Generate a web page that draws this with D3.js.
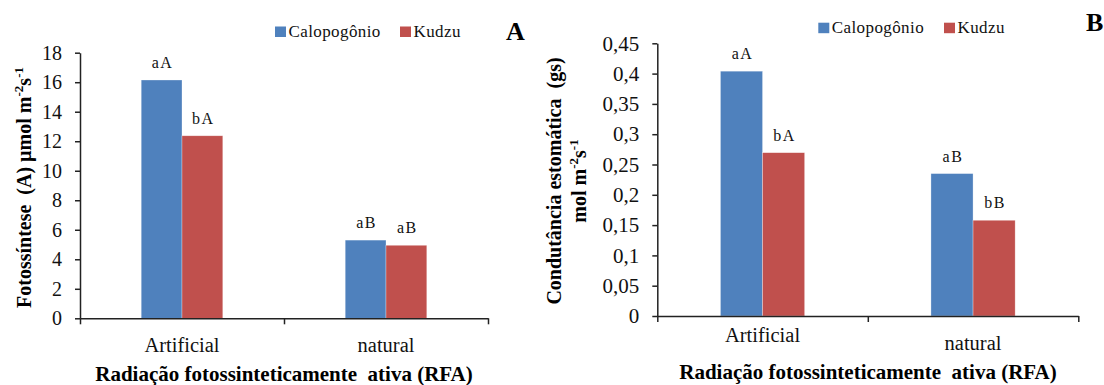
<!DOCTYPE html>
<html>
<head>
<meta charset="utf-8">
<script src="https://cdn.jsdelivr.net/npm/d3@7.9.0/dist/d3.min.js"></script>
<style>
  html, body { margin: 0; padding: 0; background: #fff; }
  text { white-space: pre; }
</style>
</head>
<body>
<svg id="chart" width="1104" height="385"></svg>
<script>
// data
const categories = ["Artificial", "natural"];
const series = ["Calopogônio", "Kudzu"];

const photoCalopogonio = [16.15, 5.3];
const photoKudzu = [12.37, 4.95];
const photoLettersCalopogonio = ["aA", "aB"];
const photoLettersKudzu = ["bA", "aB"];
const photoTicks = [0, 2, 4, 6, 8, 10, 12, 14, 16, 18];

const gsCalopogonio = [0.404, 0.235];
const gsKudzu = [0.2695, 0.158];
const gsLettersCalopogonio = ["aA", "aB"];
const gsLettersKudzu = ["bA", "bB"];
const gsTicks = [0, 0.05, 0.1, 0.15, 0.2, 0.25, 0.3, 0.35, 0.4, 0.45];

const colors = d3.scaleOrdinal().domain(series).range(["#4F81BD", "#C0504D"]);
const svg = d3.select("#chart");

// comma decimals like the original
const commaFormat = d => String(d).replace(".", ",");

function drawPanel(opt) {
  const g = svg.append("g");

  let x = d3.scaleBand().domain(categories).range([opt.x0, opt.x1]);
  let xSub = d3.scaleBand().domain(series).range([0, x.bandwidth()]).paddingOuter(1.5);
  let y = d3.scaleLinear().domain([0, opt.ticks[opt.ticks.length - 1]]).range([opt.y0, opt.y1]);

  // rows: one per category/series pair
  let rows = [];
  categories.forEach((c, i) => {
    series.forEach((s, j) => {
      rows.push({ cat: c, ser: s, value: opt.values[j][i], letter: opt.letters[j][i] });
    });
  });

  g.selectAll("rect.bar")
    .data(rows)
    .enter()
    .append("rect")
    .attr("class", "bar")
    .attr("x", d => x(d.cat) + xSub(d.ser))
    .attr("width", xSub.bandwidth())
    .attr("y", d => y(d.value))
    .attr("height", d => y(0) - y(d.value))
    .attr("fill", d => colors(d.ser))
    .attr("stroke", "rgba(255,255,255,0.5)")
    .attr("stroke-width", 0.6);

  g.selectAll("text.letter")
    .data(rows)
    .enter()
    .append("text")
    .attr("class", "letter")
    .attr("x", d => x(d.cat) + xSub(d.ser) + xSub.bandwidth() / 2 + 1)
    .attr("y", d => y(d.value) - 12)
    .attr("text-anchor", "middle")
    .attr("font-size", 16)
    .attr("letter-spacing", 1.5)
    .attr("fill", "#111")
    .text(d => d.letter);

  // y axis
  let yAxis = g.append("g")
    .attr("transform", `translate(${opt.x0},0)`)
    .call(d3.axisLeft(y).tickValues(opt.ticks).tickSize(5).tickSizeOuter(0).tickPadding(13).tickFormat(commaFormat));
  yAxis.selectAll("text").attr("font-size", opt.tickFont).attr("fill", "#111");

  // x axis with ticks on the band edges
  let edge = d3.scaleLinear().domain([0, categories.length]).range([opt.x0, opt.x1]);
  g.append("g")
    .attr("transform", `translate(0,${opt.y0})`)
    .call(d3.axisBottom(edge).tickValues(d3.range(categories.length + 1)).tickSize(6).tickSizeOuter(0).tickFormat(""));

  g.selectAll("path.domain, .tick line").attr("stroke", "#222").attr("stroke-width", 1.5);

  g.selectAll("text.cat")
    .data(categories)
    .enter()
    .append("text")
    .attr("class", "cat")
    .attr("x", d => x(d) + x.bandwidth() / 2)
    .attr("y", (d, i) => opt.catY[i])
    .attr("text-anchor", "middle")
    .attr("font-size", 20.5)
    .attr("fill", "#111")
    .text(d => d);

  // x title
  g.append("text")
    .attr("x", opt.xTitleX)
    .attr("y", opt.xTitleY)
    .attr("text-anchor", "middle")
    .attr("font-size", 21)
    .attr("font-weight", "bold")
    .text("Radiação fotossinteticamente  ativa (RFA)");

  // y title (one or more rotated lines, superscripts via tspans)
  opt.yTitle.forEach((parts, k) => {
    let t = g.append("text")
      .attr("transform", `translate(${opt.yTitleX[k]},${opt.yTitleY}) rotate(-90)`)
      .attr("text-anchor", "middle")
      .attr("font-size", 20)
      .attr("font-weight", "bold");
    parts.forEach(p => {
      let ts = t.append("tspan").text(p.t);
      if (p.sup) ts.attr("font-size", 13).attr("dy", -8);
      if (p.down) ts.attr("dy", 8);
    });
  });

  // legend
  let leg = g.selectAll("g.leg")
    .data(series)
    .enter()
    .append("g")
    .attr("class", "leg")
    .attr("transform", (d, i) => `translate(${opt.legendX[i]},${opt.legendY})`);
  leg.append("rect")
    .attr("width", 11)
    .attr("height", 10.5)
    .attr("fill", d => colors(d));
  leg.append("text")
    .attr("x", 13.5)
    .attr("y", 10.5)
    .attr("font-size", 17)
    .attr("letter-spacing", 0.4)
    .attr("fill", "#111")
    .text(d => d);

  // panel letter
  g.append("text")
    .attr("x", opt.tagX)
    .attr("y", opt.tagY)
    .attr("font-size", 26)
    .attr("font-weight", "bold")
    .text(opt.tag);
}

drawPanel({
  x0: 80, x1: 488, y0: 318.3, y1: 52.7,
  ticks: photoTicks, tickFont: 20,
  values: [photoCalopogonio, photoKudzu],
  letters: [photoLettersCalopogonio, photoLettersKudzu],
  catY: [351.7, 351.7],
  xTitleX: 284, xTitleY: 381,
  yTitleX: [31], yTitleY: 187.5,
  yTitle: [[
    { t: "Fotossíntese  (A) µmol m" }, { t: "-2", sup: true }, { t: "s", down: true },
    { t: "-1", sup: true }
  ]],
  legendX: [275, 400], legendY: 26.5,
  tag: "A", tagX: 506, tagY: 40
});

drawPanel({
  x0: 657.3, x1: 1078.3, y0: 316, y1: 43.3,
  ticks: gsTicks, tickFont: 21,
  values: [gsCalopogonio, gsKudzu],
  letters: [gsLettersCalopogonio, gsLettersKudzu],
  catY: [341.7, 350],
  xTitleX: 868, xTitleY: 378.5,
  yTitleX: [561, 586], yTitleY: 181,
  yTitle: [
    [{ t: "Condutância estomática  (gs)" }],
    [{ t: "mol m" }, { t: "-2", sup: true }, { t: "s", down: true }, { t: "-1", sup: true }]
  ],
  legendX: [818.3, 944], legendY: 22.7,
  tag: "B", tagX: 1086, tagY: 30.7
});

// every label in the serif face of the original
svg.selectAll("g").attr("font-family", null);
svg.selectAll("text").style("font-family", "'Liberation Serif', 'Times New Roman', serif");
</script>
</body>
</html>
